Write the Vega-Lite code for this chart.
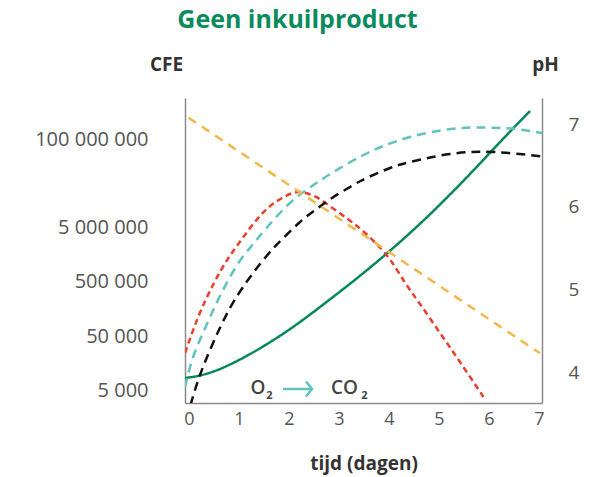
{
  "$schema": "https://vega.github.io/schema/vega-lite/v6.json",
  "width": 357,
  "height": 305,
  "autosize": {"type": "none"},
  "padding": {"left": 185, "top": 98, "right": 48, "bottom": 74},
  "config": {
    "view": {"stroke": null},
    "font": "Open Sans",
    "axis": {
      "grid": false,
      "ticks": false,
      "domainColor": "#8a8a8a",
      "domainWidth": 1.5,
      "labelColor": "#555555",
      "labelFont": "Open Sans",
      "titleFont": "Open Sans",
      "titleColor": "#333333",
      "titleFontWeight": "bold"
    }
  },
  "title": {
    "text": "Geen inkuilproduct",
    "color": "#0b8a5e",
    "font": "Open Sans",
    "fontSize": 25,
    "fontWeight": "bold",
    "anchor": "middle",
    "frame": "group",
    "dx": -66,
    "offset": 22
  },
  "datasets": {
    "cfe": [
      {"serie": "groen", "x": -0.08, "v": 25},
      {"serie": "groen", "x": 0.22, "v": 27.5},
      {"serie": "groen", "x": 0.62, "v": 34},
      {"serie": "groen", "x": 1.15, "v": 47},
      {"serie": "groen", "x": 1.69, "v": 63},
      {"serie": "groen", "x": 2.22, "v": 81},
      {"serie": "groen", "x": 2.75, "v": 101},
      {"serie": "groen", "x": 3.29, "v": 122},
      {"serie": "groen", "x": 3.92, "v": 148},
      {"serie": "groen", "x": 4.55, "v": 176},
      {"serie": "groen", "x": 5.09, "v": 202},
      {"serie": "groen", "x": 5.62, "v": 229},
      {"serie": "groen", "x": 6.09, "v": 254},
      {"serie": "groen", "x": 6.49, "v": 275},
      {"serie": "groen", "x": 6.82, "v": 292},
      {"serie": "rood", "x": -0.08, "v": 50},
      {"serie": "rood", "x": 0.2, "v": 88},
      {"serie": "rood", "x": 0.5, "v": 120},
      {"serie": "rood", "x": 0.75, "v": 142},
      {"serie": "rood", "x": 1.0, "v": 160},
      {"serie": "rood", "x": 1.3, "v": 180},
      {"serie": "rood", "x": 1.6, "v": 196},
      {"serie": "rood", "x": 1.9, "v": 206},
      {"serie": "rood", "x": 2.2, "v": 211},
      {"serie": "rood", "x": 2.5, "v": 207},
      {"serie": "rood", "x": 2.7, "v": 201},
      {"serie": "rood", "x": 3.15, "v": 185},
      {"serie": "rood", "x": 3.5, "v": 171},
      {"serie": "rood", "x": 3.95, "v": 148},
      {"serie": "rood", "x": 4.3, "v": 122},
      {"serie": "rood", "x": 4.62, "v": 99},
      {"serie": "rood", "x": 5.02, "v": 70},
      {"serie": "rood", "x": 5.42, "v": 41},
      {"serie": "rood", "x": 5.89, "v": 6},
      {"serie": "turquoise", "x": -0.08, "v": 16},
      {"serie": "turquoise", "x": 0.09, "v": 47},
      {"serie": "turquoise", "x": 0.35, "v": 78},
      {"serie": "turquoise", "x": 0.62, "v": 107},
      {"serie": "turquoise", "x": 0.95, "v": 137},
      {"serie": "turquoise", "x": 1.25, "v": 157},
      {"serie": "turquoise", "x": 1.55, "v": 175},
      {"serie": "turquoise", "x": 2.02, "v": 200},
      {"serie": "turquoise", "x": 2.49, "v": 218},
      {"serie": "turquoise", "x": 2.89, "v": 231},
      {"serie": "turquoise", "x": 3.45, "v": 247},
      {"serie": "turquoise", "x": 3.89, "v": 257},
      {"serie": "turquoise", "x": 4.42, "v": 266},
      {"serie": "turquoise", "x": 5.09, "v": 273},
      {"serie": "turquoise", "x": 5.69, "v": 275.5},
      {"serie": "turquoise", "x": 6.22, "v": 275},
      {"serie": "turquoise", "x": 6.55, "v": 274},
      {"serie": "turquoise", "x": 7.06, "v": 270},
      {"serie": "zwart", "x": 0.03, "v": -2},
      {"serie": "zwart", "x": 0.22, "v": 28},
      {"serie": "zwart", "x": 0.49, "v": 61},
      {"serie": "zwart", "x": 0.82, "v": 95},
      {"serie": "zwart", "x": 1.15, "v": 121},
      {"serie": "zwart", "x": 1.42, "v": 139},
      {"serie": "zwart", "x": 1.69, "v": 155},
      {"serie": "zwart", "x": 1.89, "v": 165},
      {"serie": "zwart", "x": 2.22, "v": 181},
      {"serie": "zwart", "x": 2.55, "v": 194},
      {"serie": "zwart", "x": 2.89, "v": 206},
      {"serie": "zwart", "x": 3.29, "v": 218},
      {"serie": "zwart", "x": 3.55, "v": 225},
      {"serie": "zwart", "x": 4.02, "v": 235},
      {"serie": "zwart", "x": 4.42, "v": 241},
      {"serie": "zwart", "x": 5.22, "v": 249},
      {"serie": "zwart", "x": 6.09, "v": 251},
      {"serie": "zwart", "x": 7.06, "v": 246.5}
    ],
    "ph": [
      {"x": -0.01, "ph": 7.08},
      {"x": 7.02, "ph": 4.23}
    ],
    "groot": [
      {"t": "O", "x": 1.38, "v": 15},
      {"t": "CO", "x": 3.11, "v": 15}
    ],
    "klein": [
      {"t": "2", "x": 1.61, "v": 7},
      {"t": "2", "x": 3.51, "v": 7}
    ],
    "pijl": [
      {"x": 1.88, "x2": 2.44, "v": 14}
    ],
    "pijlkop": [
      {"x": 2.46, "v": 14}
    ]
  },
  "layer": [
    {
      "layer": [
        {
          "data": {"name": "cfe"},
          "mark": {"type": "line", "interpolate": "natural", "strokeWidth": 2.5, "clip": true},
          "encoding": {
            "x": {
              "field": "x", "type": "quantitative",
              "scale": {"domain": [-0.08, 7.06], "nice": false, "zero": false},
              "axis": {
                "values": [0, 1, 2, 3, 4, 5, 6, 7],
                "labelFontSize": 18,
                "labelPadding": 7,
                "title": "tijd (dagen)",
                "titleFontSize": 19,
                "titleY": 60,
                "titleBaseline": "middle"
              }
            },
            "y": {
              "field": "v", "type": "quantitative",
              "scale": {"domain": [0, 305], "nice": false, "zero": false},
              "axis": {
                "orient": "left",
                "values": [13, 67, 122, 176, 264],
                "labelExpr": "datum.value == 13 ? '5 000' : datum.value == 67 ? '50 000' : datum.value == 122 ? '500 000' : datum.value == 176 ? '5 000 000' : '100 000 000'",
                "labelFontSize": 20,
                "labelPadding": 37,
                "title": "CFE",
                "titleFontSize": 19,
                "titleAngle": 0,
                "titleX": -19,
                "titleY": -34,
                "titleAlign": "center",
                "titleBaseline": "middle"
              }
            },
            "color": {
              "field": "serie", "type": "nominal",
              "scale": {"domain": ["groen", "rood", "turquoise", "zwart"], "range": ["#04875c", "#e8402f", "#62c3bd", "#111111"]},
              "legend": null
            },
            "strokeDash": {
              "field": "serie", "type": "nominal",
              "scale": {"domain": ["groen", "rood", "turquoise", "zwart"], "range": [[1, 0], [6, 4], [9, 6], [9, 6]]},
              "legend": null
            }
          }
        },
        {
          "data": {"name": "groot"},
          "mark": {"type": "text", "fontSize": 19, "fontWeight": 600, "color": "#444444", "font": "Open Sans"},
          "encoding": {
            "x": {"field": "x", "type": "quantitative"},
            "y": {"field": "v", "type": "quantitative"},
            "text": {"field": "t"}
          }
        },
        {
          "data": {"name": "klein"},
          "mark": {"type": "text", "fontSize": 11, "fontWeight": "bold", "color": "#444444", "font": "Open Sans"},
          "encoding": {
            "x": {"field": "x", "type": "quantitative"},
            "y": {"field": "v", "type": "quantitative"},
            "text": {"field": "t"}
          }
        },
        {
          "data": {"name": "pijl"},
          "mark": {"type": "rule", "color": "#62c3bd", "strokeWidth": 2.5},
          "encoding": {
            "x": {"field": "x", "type": "quantitative"},
            "x2": {"field": "x2"},
            "y": {"field": "v", "type": "quantitative"}
          }
        },
        {
          "data": {"name": "pijlkop"},
          "mark": {"type": "point", "shape": "M-0.8,-1L0,0L-0.8,1", "filled": false, "stroke": "#62c3bd", "strokeWidth": 2.5, "size": 225, "opacity": 1},
          "encoding": {
            "x": {"field": "x", "type": "quantitative"},
            "y": {"field": "v", "type": "quantitative"}
          }
        }
      ]
    },
    {
      "data": {"name": "ph"},
      "mark": {"type": "line", "color": "#f1b84b", "strokeWidth": 2.5, "strokeDash": [9, 7]},
      "encoding": {
        "x": {"field": "x", "type": "quantitative"},
        "y": {
          "field": "ph", "type": "quantitative",
          "scale": {"domain": [3.629, 7.318], "nice": false, "zero": false},
          "axis": {
            "orient": "right",
            "values": [4, 5, 6, 7],
            "labelFontSize": 19,
            "labelPadding": 26,
            "title": "pH",
            "titleFontSize": 19,
            "titleAngle": 0,
            "titleX": 3,
            "titleY": -34,
            "titleAlign": "center",
            "titleBaseline": "middle"
          }
        }
      }
    }
  ],
  "resolve": {"scale": {"y": "independent"}}
}
